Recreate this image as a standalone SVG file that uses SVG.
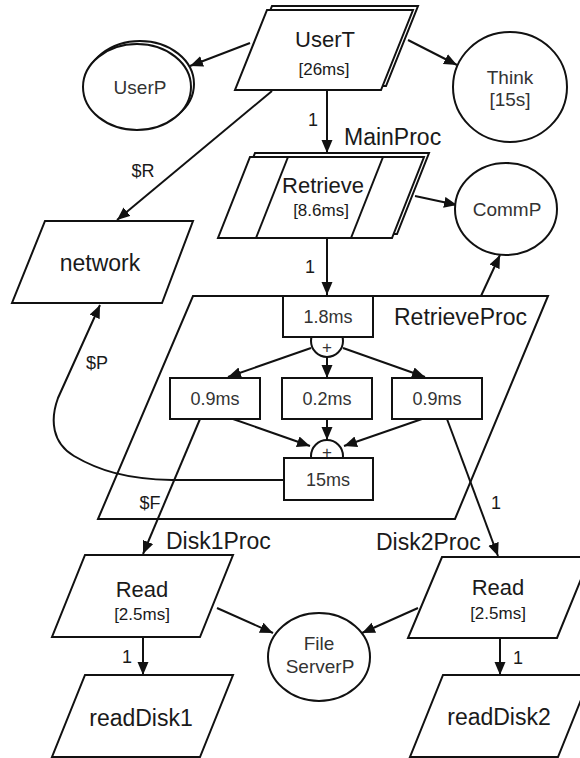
<svg xmlns="http://www.w3.org/2000/svg" width="580" height="758" viewBox="0 0 580 758">
<defs>
<style>
.s{fill:#fff;stroke:#111;stroke-width:2;stroke-linejoin:miter}
.n{fill:none;stroke:#111;stroke-width:2}
.c{fill:none;stroke:#111;stroke-width:2}
text{font-family:"Liberation Sans",Arial,sans-serif;fill:#1a1a1a;text-anchor:middle}
.big{font-size:23px}
.mid{font-size:22px}
.sm{font-size:17px}
.cir{font-size:19px;fill:#333}
.box{font-size:18px;fill:#333}
.pl{font-size:17px;fill:#333}
.lab{font-size:18px}
.st{text-anchor:start}
</style>
<marker id="ah" markerUnits="userSpaceOnUse" markerWidth="14" markerHeight="12" refX="13" refY="5.5" orient="auto">
<path d="M0,0 L13,5.5 L0,11 Z" fill="#111"/>
</marker>
</defs>
<rect width="580" height="758" fill="#fff"/>

<g id="RetrieveProc">
<polygon class="n" points="193,296 548,296 455,519 98,519"/>
<text class="big st" x="394" y="325">RetrieveProc</text>
</g>

<g id="connectors">
<line class="c" x1="250" y1="43" x2="190" y2="66" marker-end="url(#ah)"/>
<line class="c" x1="408" y1="40" x2="457" y2="65" marker-end="url(#ah)"/>
<line class="c" x1="327" y1="90" x2="327" y2="153" marker-end="url(#ah)"/>
<line class="c" x1="272" y1="91" x2="117" y2="220" marker-end="url(#ah)"/>
<line class="c" x1="415" y1="196" x2="457" y2="205" marker-end="url(#ah)"/>
<line class="c" x1="327" y1="238" x2="327" y2="295" marker-end="url(#ah)"/>
<line class="c" x1="481" y1="296" x2="500" y2="255" marker-end="url(#ah)"/>
<line class="c" x1="311" y1="348" x2="228" y2="377" marker-end="url(#ah)"/>
<line class="c" x1="327" y1="357" x2="327" y2="378" marker-end="url(#ah)"/>
<line class="c" x1="343" y1="348" x2="425" y2="377" marker-end="url(#ah)"/>
<line class="c" x1="233" y1="419" x2="310" y2="446" marker-end="url(#ah)"/>
<line class="c" x1="327" y1="419" x2="327" y2="440" marker-end="url(#ah)"/>
<line class="c" x1="422" y1="419" x2="344" y2="446" marker-end="url(#ah)"/>
<path class="c" d="M284,480 H172 C125,479 98,470 74,456 C52,443 50,420 58,398 L100,305" marker-end="url(#ah)"/>
<line class="c" x1="200" y1="419" x2="143" y2="554" marker-end="url(#ah)"/>
<line class="c" x1="447" y1="419" x2="498" y2="556" marker-end="url(#ah)"/>
<line class="c" x1="217" y1="608" x2="273" y2="633" marker-end="url(#ah)"/>
<line class="c" x1="418" y1="608" x2="362" y2="633" marker-end="url(#ah)"/>
<line class="c" x1="143" y1="637" x2="143" y2="675" marker-end="url(#ah)"/>
<line class="c" x1="500" y1="638" x2="500" y2="675" marker-end="url(#ah)"/>
<text class="lab" x="313" y="126">1</text>
<text class="lab" x="143" y="177">$R</text>
<text class="lab" x="310" y="273">1</text>
<text class="lab" x="97" y="369">$P</text>
<text class="lab" x="150" y="509">$F</text>
<text class="lab" x="496" y="509">1</text>
<text class="lab" x="127" y="663">1</text>
<text class="lab" x="518" y="664">1</text>
</g>

<g id="UserT">
<polygon class="s" points="272,6 418,6 386,86 240,86"/>
<polygon class="s" points="267,10 413,10 381,90 235,90"/>
<text class="mid" x="325" y="47">UserT</text>
<text class="sm" x="324" y="75">[26ms]</text>
</g>

<g id="UserP">
<ellipse class="s" cx="140" cy="84" rx="54" ry="43"/>
<ellipse class="s" cx="137" cy="87" rx="54" ry="43"/>
<text class="cir" x="140" y="94">UserP</text>
</g>

<g id="Think">
<ellipse class="s" cx="510" cy="87" rx="57" ry="55"/>
<text class="cir" x="510" y="84">Think</text>
<text class="cir" x="510" y="106">[15s]</text>
</g>

<g id="Retrieve">
<polygon class="s" points="255,153 429,153 397,234 223,234"/>
<polygon class="s" points="250,157 424,157 392,238 218,238"/>
<line class="n" x1="288" y1="157" x2="256" y2="238"/>
<line class="n" x1="383" y1="157" x2="351" y2="238"/>
<text class="mid" x="323" y="193">Retrieve</text>
<text class="sm" x="321" y="216">[8.6ms]</text>
<text class="big st" x="344" y="145">MainProc</text>
</g>

<g id="CommP">
<ellipse class="s" cx="506" cy="209" rx="51" ry="46"/>
<text class="cir" x="507" y="216">CommP</text>
</g>

<g id="network">
<polygon class="s" points="45,221 193,221 162,303 12,303"/>
<text class="big" x="100" y="271">network</text>
</g>

<g id="plus1">
<circle class="s" cx="327" cy="341" r="16"/>
<text class="pl" x="327" y="353">+</text>
</g>
<g id="box18">
<rect class="s" x="283" y="296" width="90" height="41"/>
<text class="box" x="328" y="323">1.8ms</text>
</g>
<g id="box09a">
<rect class="s" x="170" y="378" width="90" height="41"/>
<text class="box" x="215" y="405">0.9ms</text>
</g>
<g id="box02">
<rect class="s" x="282" y="378" width="90" height="41"/>
<text class="box" x="327" y="405">0.2ms</text>
</g>
<g id="box09b">
<rect class="s" x="392" y="378" width="90" height="41"/>
<text class="box" x="437" y="405">0.9ms</text>
</g>
<g id="plus2">
<circle class="s" cx="327" cy="456" r="16"/>
<text class="pl" x="327" y="458">+</text>
</g>
<g id="box15">
<rect class="s" x="284" y="458" width="89" height="42"/>
<text class="box" x="328" y="486">15ms</text>
</g>

<g id="Read1">
<polygon class="s" points="85,555 233,555 200,637 52,637"/>
<text class="mid" x="142" y="597">Read</text>
<text class="sm" x="142" y="620">[2.5ms]</text>
<text class="big st" x="166" y="549">Disk1Proc</text>
</g>

<g id="Read2">
<polygon class="s" points="442,557 590,557 557,638 408,638"/>
<text class="mid" x="498" y="595">Read</text>
<text class="sm" x="498" y="619">[2.5ms]</text>
<text class="big st" x="376" y="550">Disk2Proc</text>
</g>

<g id="FileServerP">
<ellipse class="s" cx="319" cy="657" rx="51" ry="44"/>
<text class="cir" x="319" y="650">File</text>
<text class="cir" x="320" y="673">ServerP</text>
</g>

<g id="readDisk1">
<polygon class="s" points="85,675 233,675 200,757 52,757"/>
<text class="big" x="141" y="726">readDisk1</text>
</g>

<g id="readDisk2">
<polygon class="s" points="443,675 591,675 558,757 410,757"/>
<text class="big" x="499" y="725">readDisk2</text>
</g>
</svg>
